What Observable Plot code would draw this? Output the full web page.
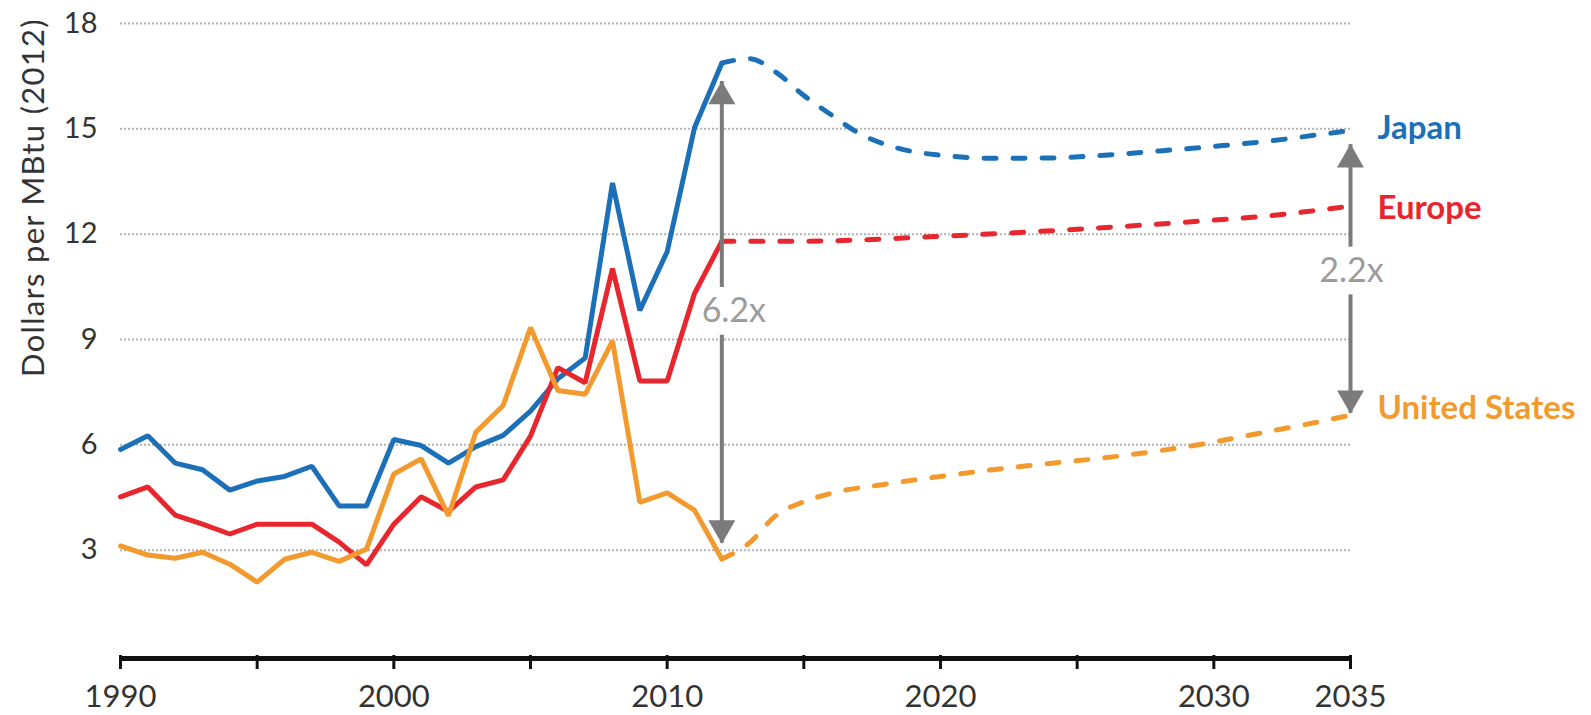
<!DOCTYPE html>
<html>
<head>
<meta charset="utf-8">
<script src="https://cdn.jsdelivr.net/npm/d3@7"></script>
<script src="https://cdn.jsdelivr.net/npm/@observablehq/plot@0.6"></script>
<style>
  body { margin: 0; background: #fff; }
  #chart svg { display: block; }
</style>
</head>
<body>
<div id="chart"></div>
<script>
// Natural gas import/wholesale prices, dollars per MBtu (2012 dollars)
const regions = ["Japan", "Europe", "United States"];
const regionColors = ["#1c70b8", "#e8262e", "#f39a2e"];

// Historical annual prices, 1990–2012
const histYears = d3.range(1990, 2013);
const japanHist = [5.87, 6.26, 5.48, 5.29, 4.71, 4.97, 5.1, 5.39, 4.26, 4.26, 6.15, 5.98, 5.48,
                   5.95, 6.27, 6.96, 7.88, 8.47, 13.46, 9.83, 11.5, 15.03, 16.87];
const europeHist = [4.52, 4.8, 4.0, 3.74, 3.46, 3.74, 3.74, 3.74, 3.23, 2.58, 3.74, 4.52, 4.1,
                    4.8, 5.0, 6.25, 8.2, 7.77, 11.02, 7.82, 7.82, 10.31, 11.8];
const usHist = [3.12, 2.86, 2.77, 2.94, 2.6, 2.09, 2.74, 2.94, 2.68, 3.03, 5.17, 5.6, 3.98,
                6.36, 7.12, 9.34, 7.55, 7.44, 8.96, 4.36, 4.63, 4.14, 2.75];

// Projected prices, 2012–2035
const japanProjYears = [2012, 2013, 2014, 2015, 2016, 2017, 2018, 2019, 2020, 2022, 2024, 2026, 2028, 2030, 2032, 2034, 2035];
const japanProj = [16.87, 17.0, 16.6, 15.95, 15.4, 14.88, 14.55, 14.35, 14.25, 14.16, 14.17, 14.25, 14.37, 14.5, 14.65, 14.85, 14.95];
const europeProjYears = [2012, 2015, 2020, 2025, 2030, 2032, 2034, 2035];
const europeProj = [11.8, 11.8, 11.94, 12.14, 12.4, 12.52, 12.7, 12.8];
const usProjYears = [2012, 2013, 2014, 2015, 2016, 2018, 2020, 2022, 2024, 2026, 2028, 2030, 2032, 2034, 2035];
const usProj = [2.75, 3.2, 4.0, 4.38, 4.62, 4.88, 5.1, 5.3, 5.47, 5.63, 5.83, 6.08, 6.38, 6.68, 6.85];

// Axis ticks
const yTicks = [3, 6, 9, 12, 15, 18];
const xTickMarks = d3.range(1990, 2036, 5);
const xTickLabels = [1990, 2000, 2010, 2020, 2030, 2035];
const yTitle = "Dollars per MBtu (2012)";

// Price-gap annotations
const gapYears = [2012, 2035];
const gapTop = [16.35, 14.55];
const gapBottom = [3.2, 6.9];
const gapLabelAt = [9.8, 10.95];
const gapLabels = ["6.2x", "2.2x"];

// Build tidy tables
const hist = [];
[japanHist, europeHist, usHist].forEach((vals, i) =>
  vals.forEach((v, j) => hist.push({region: regions[i], year: histYears[j], value: v})));
const proj = [];
[[japanProjYears, japanProj], [europeProjYears, europeProj], [usProjYears, usProj]].forEach(([ys, vals], i) =>
  vals.forEach((v, j) => proj.push({region: regions[i], year: ys[j], value: v})));

const lastPoints = regions.map(r => proj.filter(d => d.region === r).at(-1));

const gaps = gapYears.map((x, i) => ({
  x, top: gapTop[i], bottom: gapBottom[i], mid: gapLabelAt[i], label: gapLabels[i]
}));
const gapHalf = 0.68;
const arrowGray = "#7b7b7b";
const font = "Lato, 'Open Sans', sans-serif";

const labelDy = {"Japan": -2, "Europe": 2, "United States": -7};
const gapLabelDx = [12, 1];

const chart = Plot.plot({
  width: 1591,
  height: 715,
  marginLeft: 120,
  marginRight: 241,
  marginTop: 23,
  marginBottom: 60,
  style: {fontFamily: font, color: "#333", background: "#fff", overflow: "visible"},
  x: {domain: [1990, 2035]},
  y: {domain: [0, 18]},
  color: {domain: regions, range: regionColors},
  marks: [
    Plot.gridY(yTicks, {stroke: "#b3b3b3", strokeOpacity: 1, strokeWidth: 2, strokeDasharray: "2,2"}),
    Plot.axisY({ticks: yTicks, tickSize: 0, tickPadding: 23, fontSize: 29, label: null}),
    Plot.text([yTitle], {frameAnchor: "top-left", rotate: -90, dx: -99, dy: 174,
                         fontSize: 31, fill: "#333", textAnchor: "middle"}),
    Plot.ruleY([0], {stroke: "#111", strokeWidth: 5, dy: 3}),
    Plot.axisX({ticks: xTickMarks, tickSize: 14, tickFormat: () => "", stroke: "#111", strokeWidth: 3, label: null}),
    Plot.axisX({ticks: xTickLabels, tickSize: 0, tickPadding: 29, fontSize: 31, tickFormat: d => `${d}`, label: null}),
    // projections (dashed)
    Plot.line(proj, {x: "year", y: "value", z: "region", stroke: "region", strokeWidth: 5,
                     curve: "monotone-x", strokeDasharray: "12,17", strokeLinecap: "round"}),
    // history (solid)
    Plot.line(hist, {x: "year", y: "value", z: "region", stroke: "region", strokeWidth: 5,
                     strokeLinejoin: "miter"}),
    // gap arrows
    Plot.ruleX(gaps, {x: "x", y1: "top", y2: d => d.mid + gapHalf, stroke: arrowGray, strokeWidth: 4}),
    Plot.ruleX(gaps, {x: "x", y1: d => d.mid - gapHalf, y2: "bottom", stroke: arrowGray, strokeWidth: 4}),
    Plot.dot(gaps, {x: "x", y: "top", symbol: "triangle", r: 10, fill: arrowGray, stroke: "none", dy: 15}),
    Plot.dot(gaps, {x: "x", y: "bottom", symbol: "triangle", r: 10, fill: arrowGray, stroke: "none", rotate: 180, dy: -15}),
    ...gaps.map((g, i) => Plot.text([g], {x: "x", y: "mid", text: "label", fill: "#9c9c9c", fontSize: 34,
                                          dx: gapLabelDx[i], textAnchor: "middle"})),
    // series labels
    ...regions.map((r, i) => Plot.text([lastPoints[i]], {
      x: "year", y: "value", text: "region", fill: regionColors[i], fontWeight: "bold",
      fontSize: 33, textAnchor: "start", dx: 27, dy: labelDy[r]
    }))
  ]
});

// widen the axis title's letter spacing a touch
d3.select(chart).selectAll("text")
  .filter(function() { return this.textContent === yTitle; })
  .style("letter-spacing", "1.3px");

document.getElementById("chart").appendChild(chart);
</script>
</body>
</html>
